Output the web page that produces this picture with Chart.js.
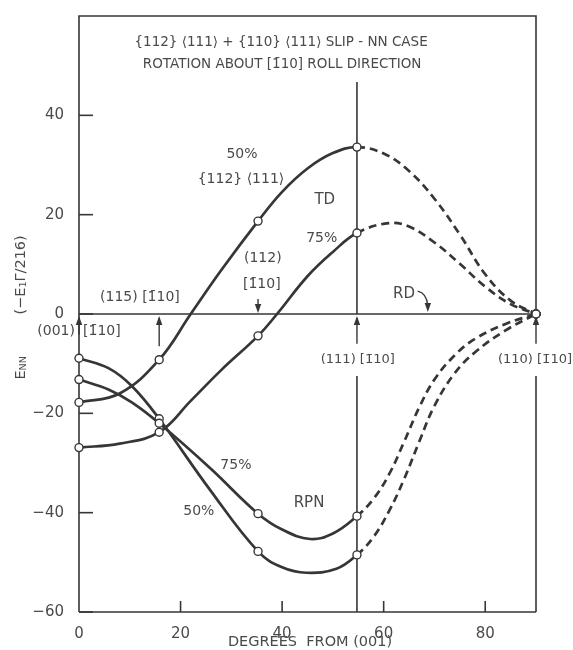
<!DOCTYPE html>
<html>
<head>
<meta charset="utf-8">
<script src="https://cdn.jsdelivr.net/npm/chart.js@4.4.0/dist/chart.umd.min.js"></script>
<style>
  body { margin: 0; background: #fff; }
  #wrap { width: 573px; height: 650px; }
</style>
</head>
<body>
<div id="wrap"><canvas id="slipChart" width="573" height="650"></canvas></div>
<script>
// Data (degrees from (001) vs E_NN)
const td50X = [0, 8, 15.79, 22, 28, 35.26, 40, 45, 50, 54.74, 60, 65, 70, 75, 80, 85, 90];
const td50Y = [-17.8, -16.0, -9.2, 0, 8.8, 18.7, 24.6, 29.3, 32.4, 33.6, 32.3, 28.8, 23.2, 16.0, 8.0, 2.7, 0];

const td75X = [0, 8, 15.79, 22, 28, 35.26, 39, 45, 50, 54.74, 61, 65, 70, 75, 80, 85, 90];
const td75Y = [-26.9, -26.1, -23.8, -17.5, -11.3, -4.4, 0, 7.6, 12.5, 16.3, 18.3, 17.6, 14.4, 10.1, 5.5, 2.0, 0];

const rpn75X = [0, 5.8, 10.4, 15.79, 25.8, 35.26, 40, 45.5, 50, 54.74, 58, 61, 64, 67, 70, 74, 78, 84, 90];
const rpn75Y = [-13.2, -15.2, -17.8, -22.0, -31.0, -40.2, -43.4, -45.3, -44.2, -40.7, -37.2, -32.4, -25.8, -18.8, -13.2, -8.3, -5.0, -2.0, 0];

const rpn50X = [0, 5.8, 10.4, 15.79, 25.8, 35.26, 40, 44.8, 50.7, 54.74, 58, 61, 64, 67, 70, 74, 78, 84, 90];
const rpn50Y = [-8.9, -10.9, -14.5, -21.1, -35.4, -47.8, -51.0, -52.1, -51.3, -48.5, -44.9, -39.8, -33.3, -25.7, -18.5, -11.9, -7.7, -3.3, 0];

// computed orientations marked with circles, and where the curves turn dashed
const markX = [0, 15.79, 35.26, 54.74, 90];
const dashFromX = 54.74;

const xTicks = [0, 20, 40, 60, 80];
const yTicks = [-60, -40, -20, 0, 20, 40];

const INK = '#363636';
const TEXT = '#4a4a4a';
const FONT = '"DejaVu Sans", sans-serif';

function toPoints(xs, ys) {
    return xs.map((x, i) => ({ x: x, y: ys[i] }));
}

function curve(xs, ys) {
    return {
        data: toPoints(xs, ys),
        borderColor: INK,
        borderWidth: 2.7,
        backgroundColor: '#fff',
        pointBorderColor: INK,
        pointBorderWidth: 1.4,
        pointBackgroundColor: '#fff',
        pointRadius: ctx => (ctx.raw && markX.includes(ctx.raw.x)) ? 4 : 0,
        tension: 0.4,
        fill: false,
        clip: false,
        segment: {
            borderDash: ctx => ctx.p0.parsed.x >= dashFromX ? [8, 5] : undefined
        }
    };
}

// Text and arrows around the plot, placed in data units
const labels = [
    { t: '{112} ⟨111⟩ + {110} ⟨111⟩ SLIP - NN CASE', x: 39.8, y: 54.7, size: 13.5 },
    { t: 'ROTATION ABOUT [1̄10] ROLL DIRECTION', x: 40.0, y: 50.3, size: 13.5 },
    { t: '50%', x: 32.1, y: 32.2 },
    { t: '{112} ⟨111⟩', x: 31.9, y: 27.2 },
    { t: 'TD', x: 48.4, y: 22.9, size: 15 },
    { t: '75%', x: 47.8, y: 15.3 },
    { t: '(112)', x: 36.2, y: 11.3 },
    { t: '[1̄10]', x: 36.0, y: 6.0 },
    { t: '(115) [1̄10]', x: 12.0, y: 3.4 },
    { t: '(001)', x: -0.8, y: -3.4, align: 'right' },
    { t: '[1̄10]', x: 0.8, y: -3.4, align: 'left' },
    { t: 'RD', x: 64.0, y: 4.0, size: 15 },
    { t: '(111) [1̄10]', x: 54.9, y: -9.1, size: 13, clear: true },
    { t: '(110) [1̄10]', x: 89.8, y: -9.1, size: 13, clear: true },
    { t: '75%', x: 30.9, y: -30.4 },
    { t: 'RPN', x: 45.3, y: -38.0, size: 15 },
    { t: '50%', x: 23.6, y: -39.8 }
];

const upArrows = [
    { x: 0, from: -4.2 },
    { x: 15.79, from: -6.5 },
    { x: 54.74, from: -6.0 },
    { x: 90, from: -6.0 }
];

function arrowHead(c, x, y, dir) {
    c.beginPath();
    c.moveTo(x, y);
    c.lineTo(x - 3.2, y - dir * 9);
    c.lineTo(x + 3.2, y - dir * 9);
    c.closePath();
    c.fill();
}

function vline(c, x, y0, y1) {
    c.beginPath();
    c.moveTo(x, y0);
    c.lineTo(x, y1);
    c.stroke();
}

function hline(c, x0, x1, y) {
    c.beginPath();
    c.moveTo(x0, y);
    c.lineTo(x1, y);
    c.stroke();
}

const decorPlugin = {
    id: 'decor',
    beforeDatasetsDraw(chart) {
        const c = chart.ctx;
        const xs = chart.scales.x, ys = chart.scales.y;
        const X = v => xs.getPixelForValue(v);
        const Y = v => ys.getPixelForValue(v);
        c.save();
        c.strokeStyle = INK;
        c.fillStyle = INK;
        c.lineWidth = 1.6;

        // frame (right side broken around the (110) label)
        c.beginPath();
        c.moveTo(X(0), Y(-60));
        c.lineTo(X(0), Y(60));
        c.lineTo(X(90), Y(60));
        c.lineTo(X(90), Y(0));
        c.moveTo(X(0), Y(-60));
        c.lineTo(X(90), Y(-60));
        c.stroke();
        vline(c, X(90), Y(-12.5), Y(-60));

        // zero line
        hline(c, X(0), X(90), Y(0));

        // (111) vertical line
        vline(c, X(54.74), Y(46.7), Y(0));
        vline(c, X(54.74), Y(-12.5), Y(-60));

        // inward tick marks
        yTicks.forEach(v => hline(c, X(0), X(0) + 14, Y(v)));
        xTicks.filter(v => v > 0).forEach(v => vline(c, X(v), Y(-60), Y(-60) - 11));

        // arrows pointing at the zero line
        c.lineWidth = 1.4;
        upArrows.forEach(a => {
            vline(c, X(a.x), Y(a.from), Y(0) + 4);
            arrowHead(c, X(a.x), Y(0) + 2, -1);
        });
        vline(c, X(35.26), Y(3), Y(0) - 4);
        arrowHead(c, X(35.26), Y(0) - 1, 1);

        // curly RD pointer
        const rx0 = X(66.7), ry0 = Y(4.6), rx1 = X(68.7), ry1 = Y(0) - 2;
        c.beginPath();
        c.moveTo(rx0, ry0);
        c.quadraticCurveTo(rx1 - 1, ry0 + 2, rx1, ry1 - 6);
        c.stroke();
        arrowHead(c, rx1, ry1, 1);

        // labels
        c.textBaseline = 'middle';
        labels.forEach(l => {
            c.font = (l.size || 14) + 'px ' + FONT;
            c.textAlign = l.align || 'center';
            if (l.clear) {
                const w = c.measureText(l.t).width;
                c.fillStyle = '#fff';
                c.fillRect(X(l.x) - w / 2 - 2, Y(l.y) - 10, w + 4, 20);
            }
            c.fillStyle = TEXT;
            c.fillText(l.t, X(l.x), Y(l.y));
        });

        // x axis title
        c.font = '14.5px ' + FONT;
        c.textAlign = 'center';
        c.fillText('DEGREES  FROM (001)', X(45.5), Y(-60) + 30);

        // y axis title, rotated, with subscripts
        c.translate(21, Y(-13.2));
        c.rotate(-Math.PI / 2);
        c.textAlign = 'left';
        let px = 0;
        const part = (s, size, dy) => {
            c.font = size + 'px ' + FONT;
            c.fillText(s, px, dy);
            px += c.measureText(s).width;
        };
        part('E', 14.5, 0);
        part('NN', 9.5, 3);
        px = 65;
        part('(−E', 14.5, 0);
        part('1', 9.5, 3);
        part('Γ/216)', 14.5, 0);
        c.restore();
    }
};

const chart = new Chart(document.getElementById('slipChart').getContext('2d'), {
    type: 'line',
    data: {
        datasets: [
            curve(td50X, td50Y),
            curve(td75X, td75Y),
            curve(rpn75X, rpn75Y),
            curve(rpn50X, rpn50Y)
        ]
    },
    options: {
        responsive: false,
        animation: false,
        events: [],
        layout: { padding: { left: 0, top: 10, right: 37, bottom: 0 } },
        plugins: {
            legend: { display: false },
            tooltip: { enabled: false }
        },
        scales: {
            x: {
                type: 'linear',
                min: 0,
                max: 90,
                grid: { display: false },
                border: { display: false },
                afterBuildTicks: s => { s.ticks = xTicks.map(v => ({ value: v })); },
                afterFit: s => { s.height = 38; },
                ticks: { color: TEXT, font: { family: FONT, size: 15 }, padding: 5, maxRotation: 0 }
            },
            y: {
                type: 'linear',
                min: -60,
                max: 60,
                grid: { display: false },
                border: { display: false },
                afterBuildTicks: s => { s.ticks = yTicks.map(v => ({ value: v })); },
                afterFit: s => { s.width = 79; },
                ticks: {
                    color: TEXT,
                    font: { family: FONT, size: 15 },
                    padding: 7,
                    callback: v => String(v).replace('-', '−')
                }
            }
        }
    },
    plugins: [decorPlugin]
});
</script>
</body>
</html>
